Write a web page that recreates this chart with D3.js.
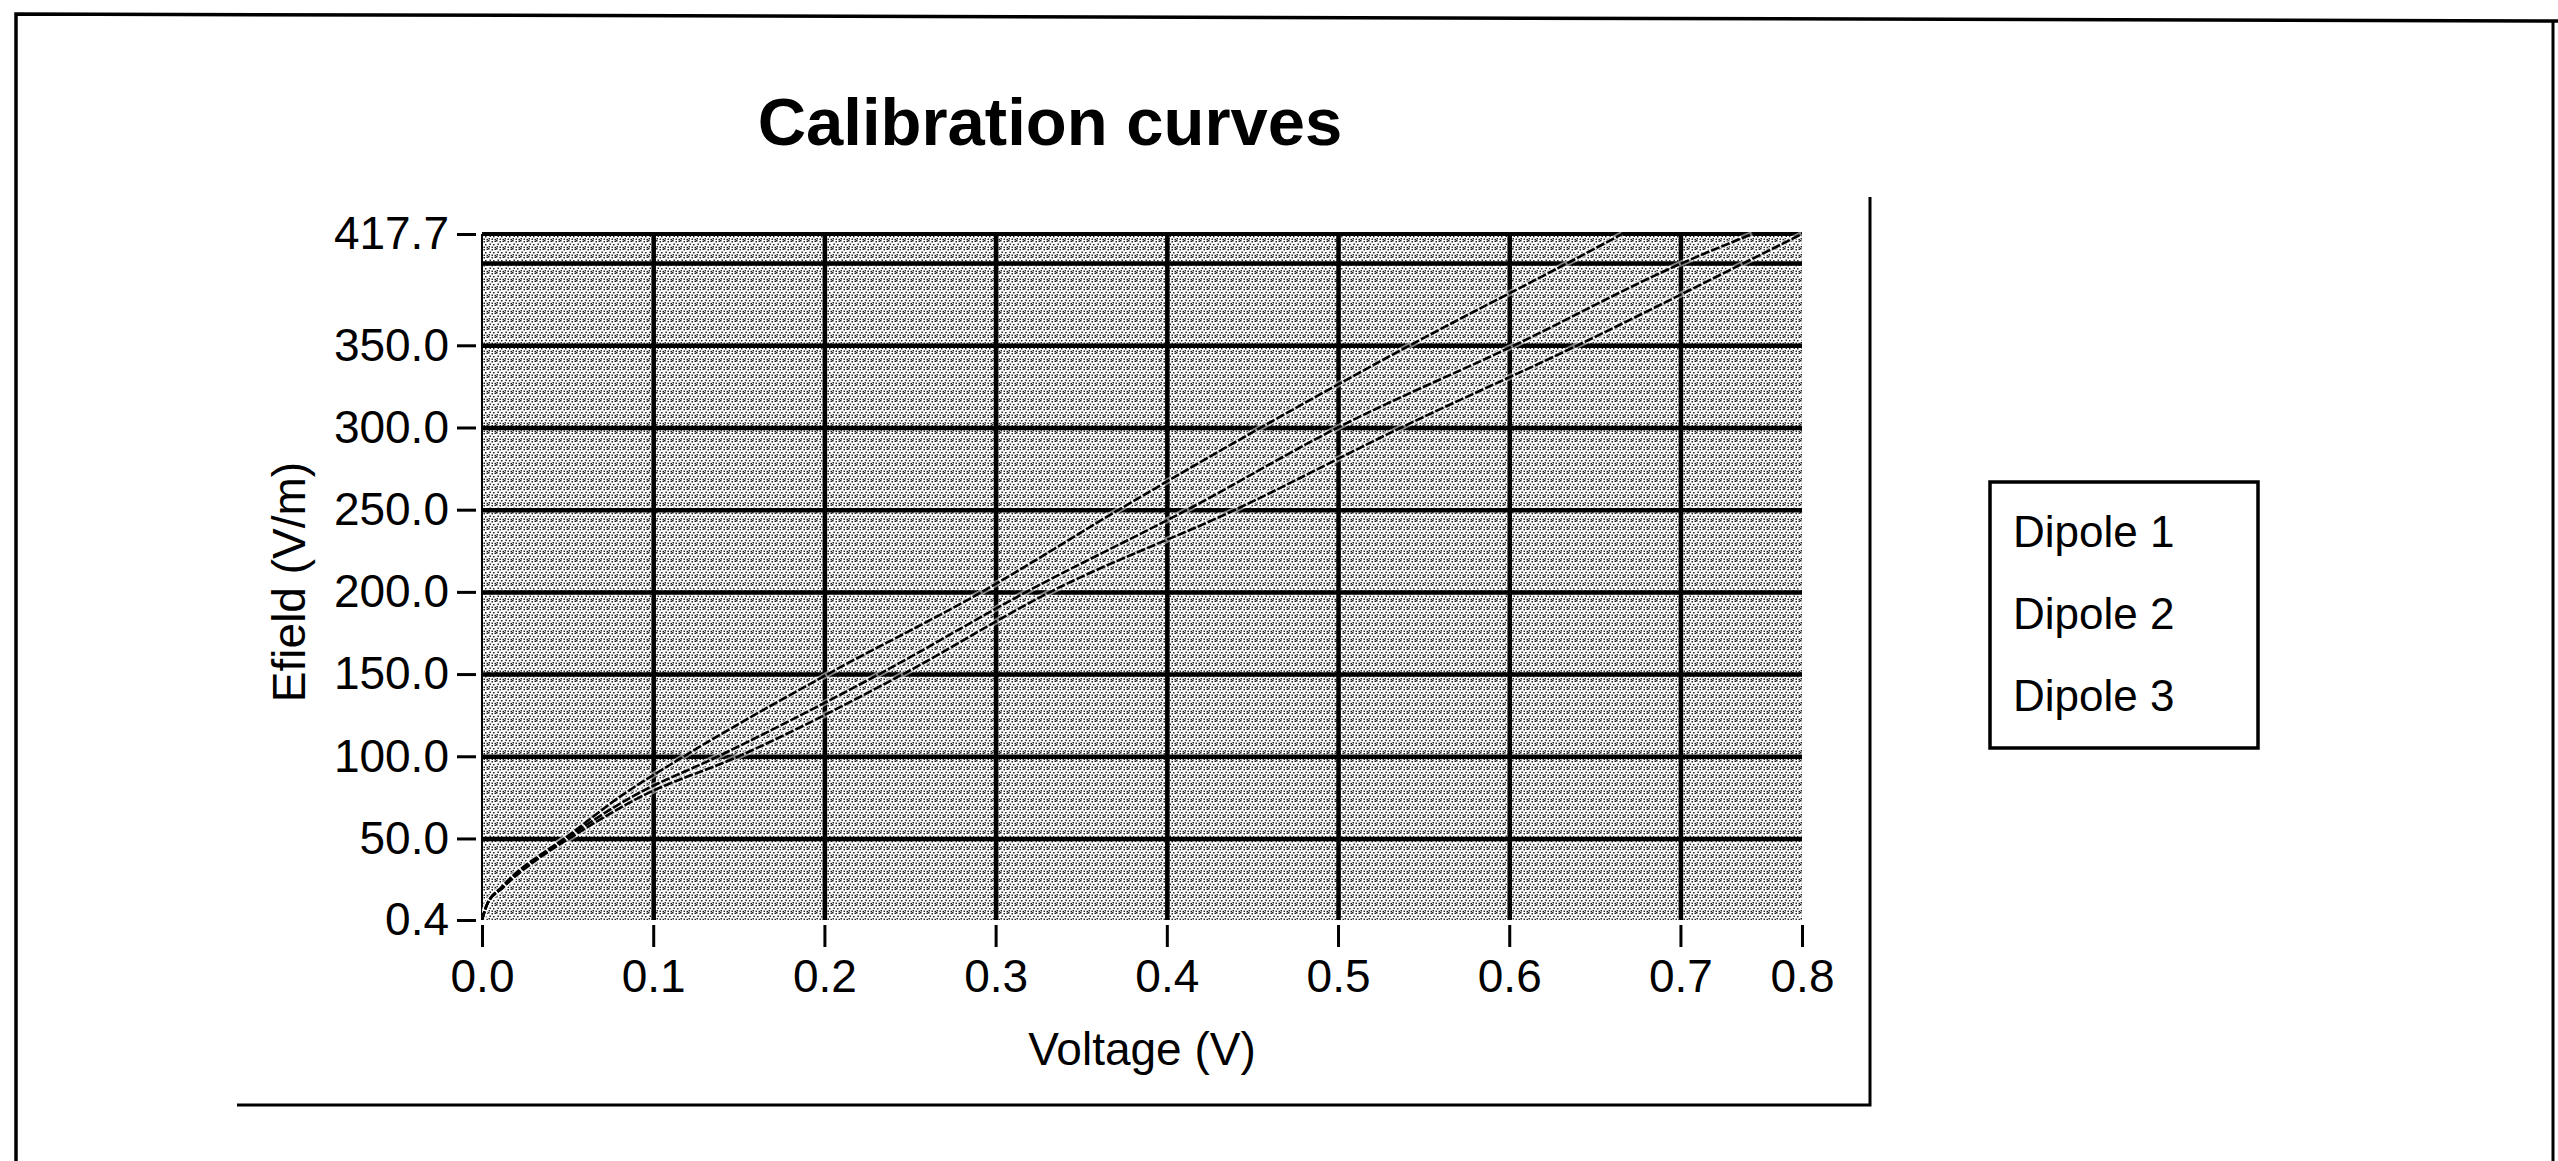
<!DOCTYPE html>
<html lang="en">
<head>
<meta charset="UTF-8">
<title>Calibration curves</title>
<script src="https://d3js.org/d3.v7.min.js"></script>
<style>
body { margin: 0; background: #fff; }
svg { display: block; font-family: "Liberation Sans", Arial, sans-serif; }
</style>
</head>
<body>
<script>
// E-field steps shared by the three sweeps, and the voltage read for each dipole
var efield  = [0.4, 10,    20,    30,    40,    50,    75,    100,   150,   200,   250,   300,   350,   400,   417.7];
var dipole1 = [0,   0.003, 0.011, 0.021, 0.034, 0.048, 0.080, 0.118, 0.202, 0.292, 0.372, 0.455, 0.542, 0.634, 0.666];
var dipole2 = [0,   0.003, 0.012, 0.022, 0.035, 0.049, 0.087, 0.138, 0.232, 0.318, 0.412, 0.500, 0.603, 0.701, 0.742];
var dipole3 = [0,   0.003, 0.012, 0.023, 0.036, 0.051, 0.092, 0.150, 0.246, 0.332, 0.440, 0.537, 0.640, 0.737, 0.771];
var seriesNames = ["Dipole 1", "Dipole 2", "Dipole 3"];

var xTickValues = [0, 0.1, 0.2, 0.3, 0.4, 0.5, 0.6, 0.7, 0.771];
var xTickLabels = ["0.0", "0.1", "0.2", "0.3", "0.4", "0.5", "0.6", "0.7", "0.8"];
var yTickValues = [0.4, 50, 100, 150, 200, 250, 300, 350, 417.7];
var yTickLabels = ["0.4", "50.0", "100.0", "150.0", "200.0", "250.0", "300.0", "350.0", "417.7"];
var xGridValues = [0.1, 0.2, 0.3, 0.4, 0.5, 0.6, 0.7];
var yGridValues = [50, 100, 150, 200, 250, 300, 350, 400];

var widthOfTotalDisplay = 2558;
var heightOfTotalDisplay = 1161;
var plotBox = {left: 482, right: 1802, top: 234, bottom: 920};
var width = plotBox.right - plotBox.left;
var height = plotBox.bottom - plotBox.top;

var x = d3.scaleLinear().domain([0, 0.771]).range([plotBox.left, plotBox.right]);
var y = d3.scaleLinear().domain([0.4, 417.7]).range([plotBox.bottom, plotBox.top]);

var svg = d3.select("body").append("svg")
    .attr("width", widthOfTotalDisplay)
    .attr("height", heightOfTotalDisplay);

// stipple fill of the plot area
var defs = svg.append("defs");
var pat = defs.append("pattern")
    .attr("id", "stipple")
    .attr("patternUnits", "userSpaceOnUse")
    .attr("width", 8).attr("height", 8);
pat.append("rect").attr("width", 8).attr("height", 8).attr("fill", "#fff");
[[0,0],[3.5,1],[6.5,0.5],[1.5,3.5],[5,4],[0.5,6],[3.5,6.5],[6.5,6.8]]
    .forEach(function (p) {
        pat.append("rect").attr("x", p[0]).attr("y", p[1])
            .attr("width", 1.5).attr("height", 1.5).attr("fill", "#222");
    });
defs.append("clipPath").attr("id", "plotClip")
    .append("rect")
    .attr("x", plotBox.left).attr("y", plotBox.top - 2)
    .attr("width", width).attr("height", height + 2);

// outer frame (scan page edges)
svg.append("path")
    .attr("d", "M16,1161 L16,14 L2558,21")
    .attr("fill", "none").attr("stroke", "#000").attr("stroke-width", 3.5);
svg.append("line")
    .attr("x1", 2553).attr("y1", 21).attr("x2", 2553).attr("y2", 1161)
    .attr("stroke", "#000").attr("stroke-width", 3);

// inner panel shadow edges
svg.append("path")
    .attr("d", "M237,1105 L1870,1105 L1870,197")
    .attr("fill", "none").attr("stroke", "#000").attr("stroke-width", 3);

// title
svg.append("text")
    .attr("x", 1050).attr("y", 145)
    .attr("text-anchor", "middle")
    .attr("font-size", 67).attr("font-weight", "bold")
    .text("Calibration curves");

// plot background
svg.append("rect")
    .attr("x", plotBox.left).attr("y", plotBox.top)
    .attr("width", width).attr("height", height)
    .attr("fill", "url(#stipple)");

// gridlines
var yGrid = d3.axisLeft(y).tickValues(yGridValues).tickSize(-width).tickFormat("");
var xGrid = d3.axisBottom(x).tickValues(xGridValues).tickSize(-height).tickFormat("");

svg.append("g")
    .classed("gridline", true)
    .attr("transform", "translate(" + plotBox.left + ",0)")
    .call(yGrid)
    .call(function (g) { g.select(".domain").remove(); })
    .selectAll("line").attr("stroke", "#000").attr("stroke-width", 4.5);

svg.append("g")
    .classed("gridline", true)
    .attr("transform", "translate(0," + plotBox.bottom + ")")
    .call(xGrid)
    .call(function (g) { g.select(".domain").remove(); })
    .selectAll("line").attr("stroke", "#000").attr("stroke-width", 4.5);

// plot top and left edges
svg.append("line")
    .attr("x1", plotBox.left).attr("y1", plotBox.top)
    .attr("x2", plotBox.right).attr("y2", plotBox.top)
    .attr("stroke", "#000").attr("stroke-width", 4);
svg.append("line")
    .attr("x1", plotBox.left).attr("y1", plotBox.top)
    .attr("x2", plotBox.left).attr("y2", plotBox.bottom)
    .attr("stroke", "#000").attr("stroke-width", 2);

// curves
var series = [dipole1, dipole2, dipole3].map(function (volts, i) {
    return {
        name: seriesNames[i],
        points: volts.map(function (v, j) { return {v: v, e: efield[j]}; })
    };
});

var line = d3.line()
    .x(function (d) { return x(d.v); })
    .y(function (d) { return y(d.e); })
    .curve(d3.curveMonotoneX);

var curves = svg.append("g").attr("clip-path", "url(#plotClip)");
curves.selectAll(".halo")
    .data(series).enter().append("path")
    .classed("halo", true)
    .attr("d", function (d) { return line(d.points); })
    .attr("fill", "none").attr("stroke", "#fff")
    .attr("stroke-opacity", 0.5).attr("stroke-width", 6);
curves.selectAll(".curve")
    .data(series).enter().append("path")
    .classed("curve", true)
    .attr("d", function (d) { return line(d.points); })
    .attr("fill", "none").attr("stroke", "#000")
    .attr("stroke-width", 2.6).attr("stroke-dasharray", "9,2");

// axes
var yAxis = d3.axisLeft(y)
    .tickValues(yTickValues)
    .tickFormat(function (d, i) { return yTickLabels[i]; })
    .tickSize(19).tickPadding(8);
var xAxis = d3.axisBottom(x)
    .tickValues(xTickValues)
    .tickFormat(function (d, i) { return xTickLabels[i]; })
    .tickSize(22).tickPadding(12);

var gy = svg.append("g")
    .classed("y axis", true)
    .attr("transform", "translate(476,0)")
    .call(yAxis);
gy.select(".domain").remove();
gy.selectAll("line").attr("stroke", "#000").attr("stroke-width", 3);
gy.selectAll("text")
    .attr("font-size", 46).attr("fill", "#000")
    .attr("font-family", "Liberation Sans, Arial, sans-serif");

var gx = svg.append("g")
    .classed("x axis", true)
    .attr("transform", "translate(0,925)")
    .call(xAxis);
gx.select(".domain").remove();
gx.selectAll("line").attr("stroke", "#000").attr("stroke-width", 3);
gx.selectAll("text")
    .attr("font-size", 46).attr("fill", "#000")
    .attr("font-family", "Liberation Sans, Arial, sans-serif");

// axis titles
svg.append("text")
    .attr("transform", "translate(305,582) rotate(-90)")
    .attr("text-anchor", "middle")
    .attr("font-size", 46)
    .text("Efield (V/m)");
svg.append("text")
    .attr("x", (plotBox.left + plotBox.right) / 2).attr("y", 1065)
    .attr("text-anchor", "middle")
    .attr("font-size", 46)
    .text("Voltage (V)");

// legend
var legend = svg.append("g").attr("transform", "translate(1990,482)");
legend.append("rect")
    .attr("width", 268).attr("height", 266)
    .attr("fill", "#fff").attr("stroke", "#000").attr("stroke-width", 3.5);
legend.selectAll("text")
    .data(seriesNames).enter().append("text")
    .attr("x", 23)
    .attr("y", function (d, i) { return 65 + i * 82; })
    .attr("font-size", 44)
    .text(function (d) { return d; });
</script>
</body>
</html>
